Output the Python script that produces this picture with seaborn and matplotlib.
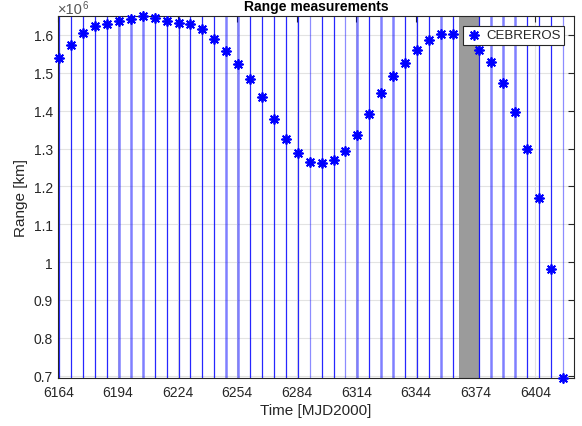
import matplotlib
matplotlib.use("Agg")
import matplotlib.pyplot as plt
import numpy as np
import pandas as pd
import seaborn as sns
from matplotlib.ticker import FuncFormatter, FixedLocator

# ---- data ----
times = [6164.5, 6170.5, 6176.5, 6182.5, 6188.5, 6194.5, 6200.5, 6206.5,
         6212.5, 6218.5, 6224.5, 6230.5, 6236.5, 6242.5, 6248.5, 6254.5,
         6260.5, 6266.5, 6272.5, 6278.5, 6284.5, 6290.5, 6296.5, 6302.5,
         6308.5, 6314.5, 6320.5, 6326.5, 6332.5, 6338.5, 6344.5, 6350.5,
         6356.5, 6362.5, 6375.8, 6381.8, 6387.8, 6393.8, 6399.8, 6405.8,
         6411.8, 6417.8]
ranges_km = [1.539e6, 1.574e6, 1.605e6, 1.623e6, 1.629e6, 1.636e6, 1.642e6,
             1.650e6, 1.645e6, 1.637e6, 1.632e6, 1.628e6, 1.616e6, 1.590e6,
             1.557e6, 1.522e6, 1.483e6, 1.436e6, 1.379e6, 1.325e6, 1.287e6,
             1.265e6, 1.261e6, 1.269e6, 1.294e6, 1.336e6, 1.390e6, 1.446e6,
             1.492e6, 1.527e6, 1.559e6, 1.587e6, 1.603e6, 1.602e6, 1.560e6,
             1.528e6, 1.472e6, 1.397e6, 1.299e6, 1.169e6, 0.982e6, 0.694e6]
# pass category for each tracking pass: F = full, P = partial, S = short
pass_type = ["F", "F", "F", "F", "F", "P", "P", "P", "F", "F", "F", "F",
             "F", "F", "P", "P", "F", "F", "F", "F", "F", "S", "F", "F",
             "S", "P", "F", "P", "P", "F", "F", "F", "P", "F", "F", "P",
             "P", "P", "F", "F", "F", "S"]
station = "CEBREROS"
outage = (6365.5, 6376.1)
xticks = [6164, 6194, 6224, 6254, 6284, 6314, 6344, 6374, 6404]
yticks = [0.7e6, 0.8e6, 0.9e6, 1.0e6, 1.1e6, 1.2e6, 1.3e6, 1.4e6, 1.5e6, 1.6e6]
xlim = (6164, 6423.5)

df = pd.DataFrame({"time": times, "range": ranges_km, "pass": pass_type})

# ---- style ----
sns.set_theme(style="white")
plt.rcParams["font.family"] = ["Liberation Sans", "DejaVu Sans"]
dark = "#262626"

fig = plt.figure(figsize=(5.82, 4.27), dpi=100)
ax = fig.add_axes([0.1002, 0.1124, 0.8861, 0.8478])

ax.axvspan(outage[0], outage[1], color="#9b9b9b", lw=0, zorder=1)

line_style = {"F": dict(lw=0.9, alpha=0.85),
              "P": dict(lw=1.8, alpha=0.5),
              "S": dict(lw=0.9, alpha=0.45)}
for t, p in zip(df["time"], df["pass"]):
    ax.axvline(t, color="blue", zorder=2, **line_style[p])

sns.scatterplot(data=df, x="time", y="range", marker=(8, 2, 0), s=42,
                color="blue", edgecolor="blue", linewidth=1.3,
                label=station, ax=ax, zorder=3, clip_on=False)

ax.set_xlim(*xlim)
ax.set_ylim(min(ranges_km), max(ranges_km))
ax.xaxis.set_major_locator(FixedLocator(xticks))
ax.yaxis.set_major_locator(FixedLocator(yticks))
ax.yaxis.set_major_formatter(FuncFormatter(lambda v, p: f"{v/1e6:g}"))

ax.grid(True, color="#e3e3e3", lw=0.8)
ax.set_axisbelow(True)
ax.tick_params(direction="in", length=4, width=0.8, top=True, right=True,
               color=dark, labelcolor=dark, labelsize=10)
ax.tick_params(axis="x", pad=5)
ax.tick_params(axis="y", pad=4)
for s in ax.spines.values():
    s.set_color(dark)
    s.set_linewidth(0.8)

# exponent label, MATLAB style
ax.text(0.0, 1.008, "×10", transform=ax.transAxes,
        ha="left", va="baseline", fontsize=10.5, color="#555555")
ax.text(0.047, 1.022, "6", transform=ax.transAxes,
        ha="left", va="baseline", fontsize=7, color="#555555")

ax.set_title("Range measurements", fontsize=10, fontweight="bold", pad=4,
             color="black")
ax.set_xlabel("Time [MJD2000]", fontsize=11, color=dark, labelpad=3)
ax.set_ylabel("Range [km]", fontsize=11, color=dark, labelpad=4)

leg = ax.legend(loc="upper right", frameon=True, fancybox=False,
                edgecolor=dark, framealpha=1, fontsize=9.5, borderpad=0.25,
                borderaxespad=0.75, handlelength=1.2, handletextpad=0.3,
                scatterpoints=1)
leg.get_frame().set_linewidth(0.8)

fig.savefig("out.png", dpi=100)
